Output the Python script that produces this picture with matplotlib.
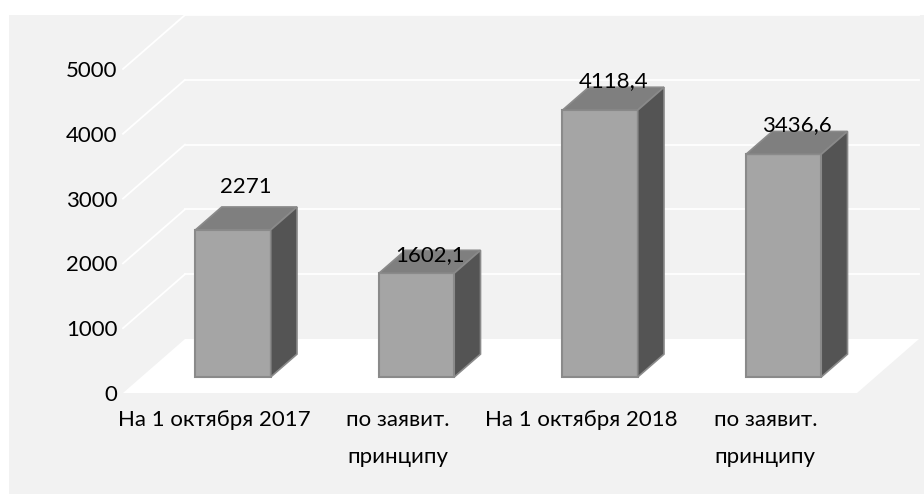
import matplotlib
matplotlib.use("Agg")
import matplotlib.pyplot as plt
from matplotlib.patches import Polygon, Rectangle
from matplotlib.lines import Line2D

# ---- data ----
categories = ["На 1 октября 2017", "по заявит.\nпринципу",
              "На 1 октября 2018", "по заявит.\nпринципу"]
values = [2271, 1602.1, 4118.4, 3436.6]
value_labels = ["2271", "1602,1", "4118,4", "3436,6"]
y_ticks = [0, 1000, 2000, 3000, 4000, 5000]
y_tick_labels = ["0", "1000", "2000", "3000", "4000", "5000"]

# ---- style ----
FONT, FS = "Lato", 16
plt.rcParams['font.family'] = [FONT, 'DejaVu Sans']

W, H = 924, 494
fig = plt.figure(figsize=(W / 100, H / 100), dpi=100)
fig.patch.set_facecolor("white")
fig.patches.append(Rectangle((9 / W, 0), 1 - 9 / W, (H - 15) / H,
                             transform=fig.transFigure, facecolor="#f2f2f2",
                             edgecolor="none", zorder=-10))

ax_l, ax_r, ax_t, ax_b = 123, 857, 69, 393
ax = fig.add_axes([ax_l / W, (H - ax_b) / H, (ax_r - ax_l) / W, (ax_b - ax_t) / H])
n = len(categories)
ax.set_xlim(-0.5, n - 0.5)
ax.set_ylim(0, 5000)
ax.patch.set_visible(False)
for s in ax.spines.values():
    s.set_visible(False)

px_x = (ax_r - ax_l) / n
px_y = (ax_b - ax_t) / 5000
ddx = 62 / px_x
ddy = 54 / px_y

x0, x1 = -0.5, n - 0.5
# floor
ax.add_patch(Polygon([(x0, 0), (x1, 0), (x1 + ddx, ddy), (x0 + ddx, ddy)],
                     closed=True, facecolor="white", edgecolor="none",
                     clip_on=False, zorder=1))
# back wall gridlines and side-wall diagonals
for v in y_ticks[1:]:
    ax.add_line(Line2D([x0 + ddx, x1 + ddx], [v + ddy, v + ddy], color="white",
                       lw=1.3, clip_on=False, zorder=1))
    ax.add_line(Line2D([x0, x0 + ddx], [v, v + ddy], color="white",
                       lw=1.3, clip_on=False, zorder=1))

# bars
f0, f1 = 0.296, 0.72
bw = 0.41
a, b = f0 * ddx, f0 * ddy
c, d = f1 * ddx, f1 * ddy
xs = list(range(n))
edge = "#8a8a8a"
ax.bar([x + a for x in xs], values, width=bw, bottom=b, color="#a5a5a5",
       edgecolor=edge, linewidth=1.5, zorder=3, clip_on=False)
nudges = [14, -11, 0, 0]
for x, v, lab, nd in zip(xs, values, value_labels, nudges):
    xl, xr = x - bw / 2, x + bw / 2
    top = [(xl + a, v + b), (xr + a, v + b), (xr + c, v + d), (xl + c, v + d)]
    side = [(xr + a, b), (xr + c, d), (xr + c, v + d), (xr + a, v + b)]
    ax.add_patch(Polygon(top, closed=True, facecolor="#7f7f7f", edgecolor=edge,
                         lw=1.2, clip_on=False, zorder=3))
    ax.add_patch(Polygon(side, closed=True, facecolor="#545454", edgecolor=edge,
                         lw=1.2, clip_on=False, zorder=3))
    ax.annotate(lab, xy=(x + (a + c) / 2, v + d), xytext=(0, nd),
                textcoords="offset pixels", ha="center", va="baseline",
                fontsize=FS, color="black", zorder=5, annotation_clip=False)

ax.set_yticks(y_ticks, y_tick_labels)
ax.set_xticks(xs, categories)
ax.tick_params(axis="both", length=0, labelsize=FS, colors="black")
ax.tick_params(axis="y", pad=4)
ax.tick_params(axis="x", pad=12)
for t in ax.get_xticklabels():
    t.set_linespacing(2.1)

fig.savefig("out.png", dpi=100)
